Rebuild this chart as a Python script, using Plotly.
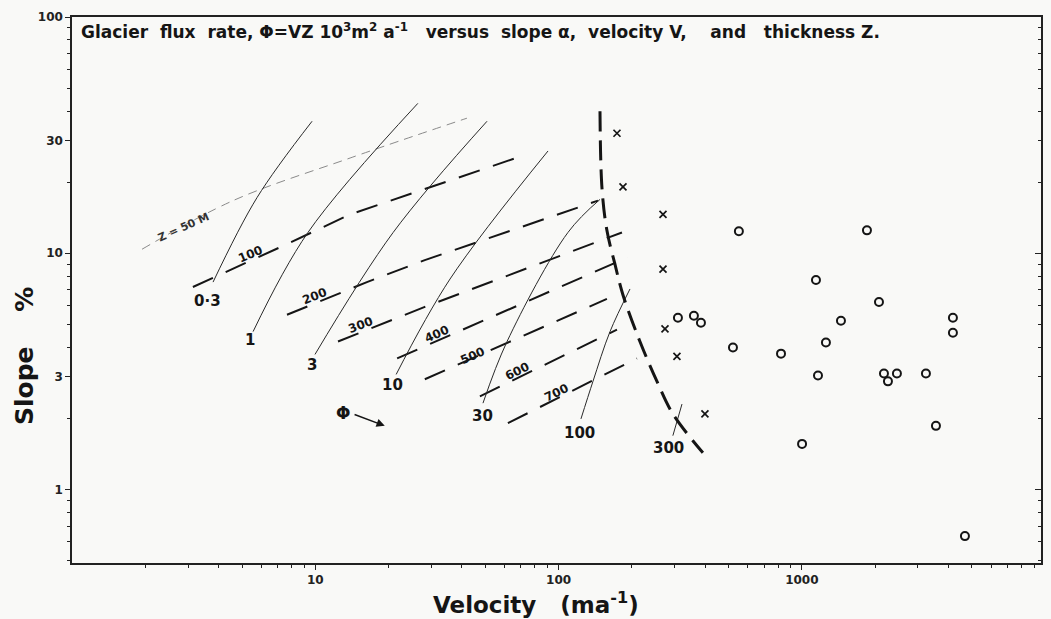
import numpy as np
import plotly.graph_objects as go

# ---------------- data ----------------
# Flux-rate curves, PHI = V Z (10^3 m^2 a^-1): velocity (m/a) vs slope (%)
flux_labels = ["0·3", "1", "3", "10", "30", "100", "300"]
flux_v = [
    [3.8, 5.76, 9.7],
    [5.55, 9.33, 26.4],
    [9.97, 20.9, 50.8],
    [21.5, 35.8, 90.5],
    [48.9, 61.4, 109.3, 148],
    [123.6, 138.5, 162.7, 196.6],
    [295, 321.6],
]
flux_s = [
    [7.55, 17.2, 36.2],
    [4.66, 12.25, 43.1],
    [3.73, 12.25, 36.2],
    [3.07, 7.78, 27.1],
    [2.32, 4.23, 12.25, 16.9],
    [1.99, 2.87, 4.66, 7.06],
    [1.69, 2.30],
]
flux_label_v = [3.59, 5.39, 9.69, 20.7, 48.9, 122.4, 284.3]
flux_label_s = [6.28, 4.31, 3.38, 2.76, 2.05, 1.74, 1.50]

# Thickness lines Z (m)
thick_labels = ["100", "200", "300", "400", "500", "600", "700"]
thick_v = [
    [3.14, 7.16, 13.9, 70.7],
    [7.65, 16.3, 28.2, 145.2],
    [12.4, 28.2, 182.2],
    [21.7, 192.9],
    [28.2, 158],
    [47.5, 173.8],
    [61.9, 210],
]
thick_s = [
    [7.2, 10.6, 14.6, 25.8],
    [5.49, 7.55, 9.35, 16.7],
    [4.23, 5.93, 12.25],
    [3.59, 9.62],
    [2.93, 6.41],
    [2.48, 4.75],
    [1.91, 3.59],
]
thick_label_v = [5.44, 9.97, 15.4, 31.6, 44.1, 68.1, 97.6]
thick_label_s = [9.9, 6.6, 4.98, 4.57, 3.69, 3.16, 2.56]
thick_label_angle = [-23, -22, -21, -24, -24, -26, -26]

# Z = 50 m line
z50_label = "Z = 50 M"
z50_v = [1.94, 4.59, 13.9, 42.0]
z50_s = [10.4, 16.7, 25.3, 37.3]
z50_label_v, z50_label_s = 2.86, 12.9

# Heavy dashed limit line
limit_v = [148, 150.8, 158, 170.5, 184, 216, 253.8, 295, 392]
limit_s = [39.9, 18.9, 12.5, 8.99, 6.66, 4.23, 2.87, 2.09, 1.43]

# Observations
cross_v = [173.8, 184, 268.7, 268.7, 273.8, 306.6, 399.6]
cross_s = [32.2, 19.1, 14.6, 8.56, 4.79, 3.66, 2.09]
circle_v = [551, 1852, 1143, 2075, 309.5, 360, 384.8, 1448, 4178, 4178, 521,
            821, 1256, 1165, 2175, 2259, 2459, 3236, 3558, 1002, 4681]
circle_s = [12.4, 12.5, 7.7, 6.22, 5.33, 5.44, 5.08, 5.18, 5.33, 4.61, 3.99,
            3.76, 4.19, 3.04, 3.10, 2.87, 3.10, 3.10, 1.86, 1.56, 0.635]

# Phi key symbol and arrow
phi_v, phi_s = 13.0, 2.11
arrow_tail_v, arrow_tail_s = 14.3, 2.09
arrow_head_v, arrow_head_s = 19.3, 1.86

# Axis ticks
x_tickvals = [10, 100, 1000]
x_ticktext = ["10", "100", "1000"]
y_tickvals = [1, 3, 10, 30, 100]
y_ticktext = ["1", "3", "10", "30", "100"]
x_minor = [m * 10 ** d for d in range(0, 4) for m in range(2, 10)]
y_minor = [m * 10 ** d for d in range(-1, 2) for m in range(2, 10) if m * 10 ** d >= 0.5]

X_RANGE = [0.0, 3.983]
Y_RANGE = [-0.311, 2.0]

INK = "#151515"
FONT = "DejaVu Sans"
BG = "#f9f9f7"

fig = go.Figure()

# thickness lines
for v, s in zip(thick_v, thick_s):
    fig.add_trace(go.Scatter(x=v, y=s, mode="lines", line=dict(color=INK, width=2, dash="22px,14px"),
                             hoverinfo="skip", showlegend=False))
# Z = 50 line
fig.add_trace(go.Scatter(x=z50_v, y=z50_s, mode="lines", line_shape="spline",
                         line=dict(color="#8a8a8a", width=1, dash="9px,6px"),
                         hoverinfo="skip", showlegend=False))
# flux curves
for v, s in zip(flux_v, flux_s):
    fig.add_trace(go.Scatter(x=v, y=s, mode="lines", line_shape="spline",
                             line=dict(color="#2a2a2a", width=1),
                             hoverinfo="skip", showlegend=False))
# limit line
fig.add_trace(go.Scatter(x=limit_v, y=limit_s, mode="lines", line_shape="spline",
                         line=dict(color=INK, width=3, dash="20px,9px"),
                         hoverinfo="skip", showlegend=False))
# crosses
fig.add_trace(go.Scatter(x=cross_v, y=cross_s, mode="markers",
                         marker=dict(symbol="x-thin", size=7, line=dict(color=INK, width=1.7)),
                         hoverinfo="skip", showlegend=False))
# circles (drawn against the right-hand axis, same scale)
fig.add_trace(go.Scatter(x=circle_v, y=circle_s, mode="markers", yaxis="y2",
                         marker=dict(symbol="circle-open", size=8, color=INK, line=dict(color=INK, width=2)),
                         hoverinfo="skip", showlegend=False))

ann = []
for t, v, s in zip(flux_labels, flux_label_v, flux_label_s):
    ann.append(dict(x=np.log10(v), y=np.log10(s), xref="x", yref="y", text="<b>%s</b>" % t,
                    showarrow=False, font=dict(family=FONT, size=15, color=INK)))
for t, v, s, a in zip(thick_labels, thick_label_v, thick_label_s, thick_label_angle):
    ann.append(dict(x=np.log10(v), y=np.log10(s), xref="x", yref="y", text="<b>%s</b>" % t,
                    textangle=a, showarrow=False, font=dict(family=FONT, size=12, color=INK)))
ann.append(dict(x=np.log10(z50_label_v), y=np.log10(z50_label_s), xref="x", yref="y",
                text="<b>%s</b>" % z50_label, textangle=-24, showarrow=False,
                font=dict(family=FONT, size=11, color="#333")))
ann.append(dict(x=np.log10(phi_v), y=np.log10(phi_s), xref="x", yref="y", text="<b>Φ</b>",
                showarrow=False, font=dict(family=FONT, size=17, color=INK)))
ann.append(dict(x=np.log10(arrow_head_v), y=np.log10(arrow_head_s), xref="x", yref="y",
                ax=np.log10(arrow_tail_v), ay=np.log10(arrow_tail_s), axref="x", ayref="y",
                text="", showarrow=True, arrowhead=2, arrowsize=1.1, arrowwidth=1.5, arrowcolor=INK))
# title
ann.append(dict(x=0.0075, y=0.9745, xref="paper", yref="paper", xanchor="left", yanchor="middle",
                text="<b>Glacier  flux  rate, Φ=VZ 10<sup>3</sup>m<sup>2</sup> a<sup>-1</sup>   versus  slope α,  velocity V,    and   thickness Z.</b>",
                showarrow=False, font=dict(family=FONT, size=17, color=INK)))
# axis titles
ann.append(dict(x=0.479, y=-0.073, xref="paper", yref="paper", xanchor="center", yanchor="middle",
                text="<b>Velocity   (ma<sup>-1</sup>)</b>", showarrow=False,
                font=dict(family=FONT, size=23, color=INK)))
ann.append(dict(x=-0.0495, y=0.379, xref="paper", yref="paper", xanchor="center", yanchor="middle",
                text="<b>Slope    %</b>", textangle=-90, showarrow=False,
                font=dict(family=FONT, size=25, color=INK)))

fig.update_layout(
    width=1051, height=619,
    margin=dict(l=72, r=10, t=14, b=56),
    paper_bgcolor=BG, plot_bgcolor=BG,
    annotations=ann,
    xaxis=dict(type="log", range=X_RANGE, showgrid=False, zeroline=False,
               showline=True, linecolor="#222", linewidth=1.5, mirror=True,
               ticks="outside", ticklen=5, tickwidth=1.2, tickcolor="#222",
               tickmode="array", tickvals=x_tickvals, ticktext=x_ticktext,
               tickfont=dict(family=FONT, size=12, color="#222", weight="bold"),
               minor=dict(tickmode="array", tickvals=x_minor, ticks="outside", ticklen=3,
                          tickwidth=1, tickcolor="#222", showgrid=False)),
    yaxis=dict(type="log", range=Y_RANGE, showgrid=False, zeroline=False,
               showline=True, linecolor="#222", linewidth=1.5,
               ticks="outside", ticklen=5, tickwidth=1.2, tickcolor="#222",
               tickmode="array", tickvals=y_tickvals, ticktext=y_ticktext,
               tickfont=dict(family=FONT, size=12, color="#222", weight="bold"),
               minor=dict(tickmode="array", tickvals=y_minor, ticks="outside", ticklen=3,
                          tickwidth=1, tickcolor="#222", showgrid=False)),
    yaxis2=dict(type="log", range=Y_RANGE, overlaying="y", side="right", showgrid=False,
                zeroline=False, showline=True, linecolor="#222", linewidth=1.5,
                ticks="inside", ticklen=6, tickwidth=1.2, tickcolor="#222",
                tickmode="array", tickvals=[1, 10, 100], showticklabels=False,
                minor=dict(tickmode="array", tickvals=y_minor, ticks="inside", ticklen=3,
                           tickwidth=1, tickcolor="#222", showgrid=False)),
    showlegend=False,
)

fig.write_html("out.html")
